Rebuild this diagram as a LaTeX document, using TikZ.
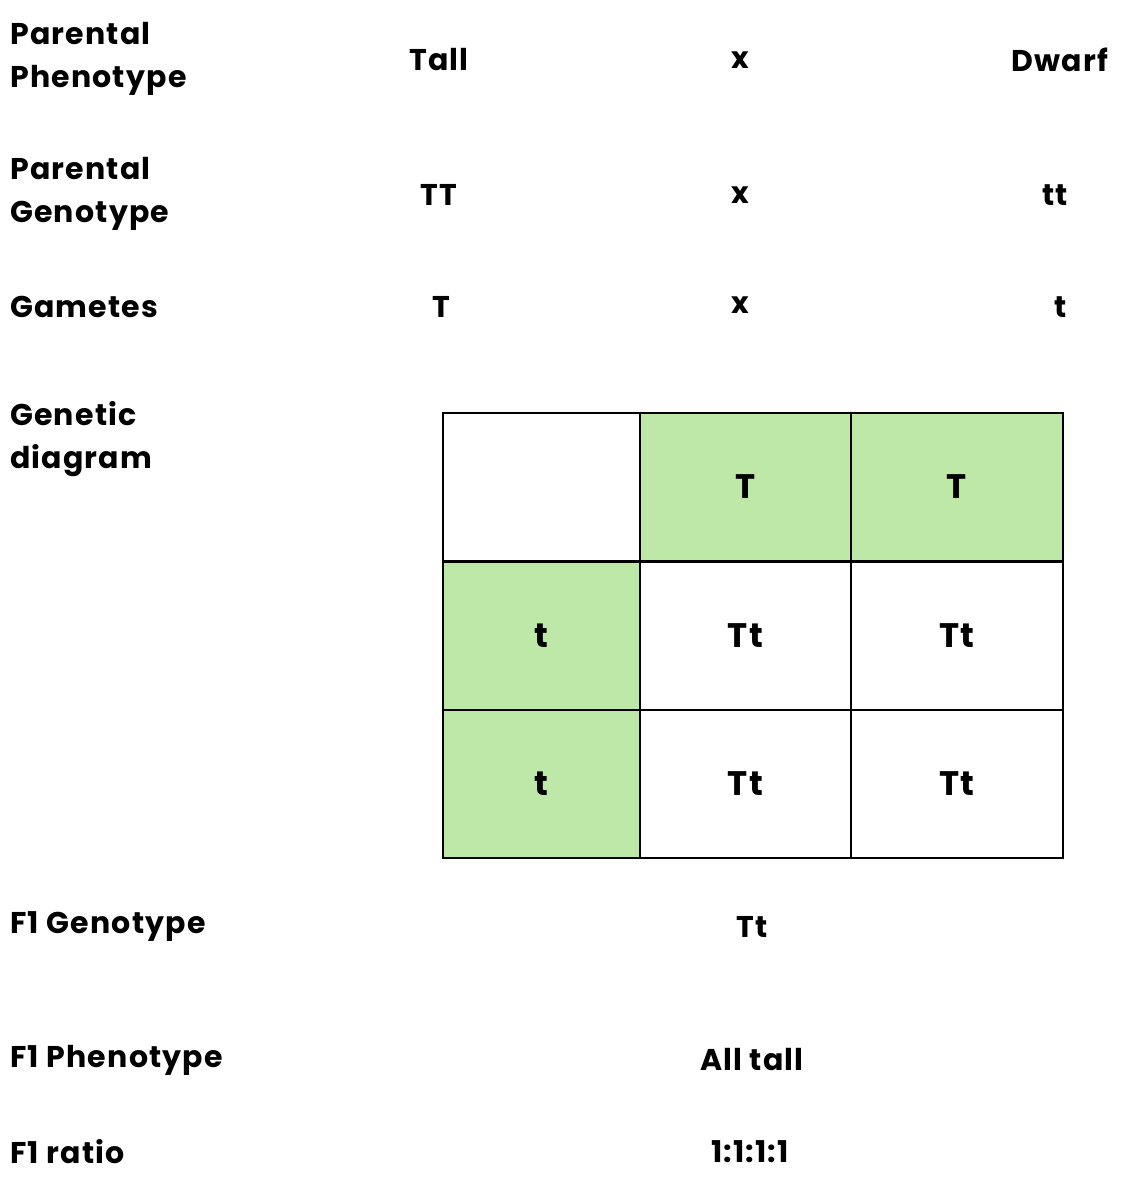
\documentclass[tikz,border=0pt]{standalone}
\usepackage{fontspec}
\setmainfont{Poppins}[BoldFont={* Bold},LetterSpace=4]
\definecolor{gr}{HTML}{BDE8A8}
\begin{document}
\begin{tikzpicture}[x=1pt,y=-1pt,
 lab/.style={anchor=west,align=left,font=\fontsize{30}{43}\selectfont\bfseries,inner sep=0pt},
 txt/.style={font=\fontsize{30}{43}\selectfont\bfseries,inner sep=0pt},
 cell/.style={draw=black,line width=2.5pt,minimum width=#1,minimum height=148pt,inner sep=0pt,font=\fontsize{34}{36}\selectfont\bfseries},
 cell/.default=200pt]
\useasboundingbox (0,0) rectangle (1125,1200);
\node[lab] (l1) at (10,59) {Parental\\Phenotype};
\node[lab] (l2) at (10,194) {Parental\\Genotype};
\node[lab] (l3) at (10,307) {Gametes};
\node[lab] (l4) at (10,439) {Genetic\\diagram};
\node[lab] (l5) at (10,927) {F1 Genotype};
\node[lab] (l6) at (10,1060) {F1 Phenotype};
\node[lab] (l7) at (10,1152) {F1 ratio};
\node[txt] (a1) at (439,60) {Tall};
\node[txt] (a2) at (740,60) {x};
\node[txt] (a3) at (1060,60) {Dwarf};
\node[txt] (b1) at (439,195) {TT};
\node[txt] (b2) at (740,195) {x};
\node[txt] (b3) at (1055,195) {tt};
\node[txt] (c1) at (441,307) {T};
\node[txt] (c2) at (740,305) {x};
\node[txt] (c3) at (1061,307) {t};
\node[txt] (d1) at (752,927) {Tt};
\node[txt] (d2) at (752,1060) {All tall};
\node[txt] (d3) at (750,1152) {1:1:1:1};
\node[cell=197pt] (g11) at (541.5,487) {};
\node[cell=211pt,fill=gr] (g12) at (745.5,487) {T};
\node[cell=212pt,fill=gr] (g13) at (957,487) {T};
\node[cell=197pt,fill=gr] (g21) at (541.5,636) {t};
\node[cell=211pt] (g22) at (745.5,636) {Tt};
\node[cell=212pt] (g23) at (957,636) {Tt};
\node[cell=197pt,fill=gr] (g31) at (541.5,784) {t};
\node[cell=211pt] (g32) at (745.5,784) {Tt};
\node[cell=212pt] (g33) at (957,784) {Tt};
\end{tikzpicture}
\end{document}
